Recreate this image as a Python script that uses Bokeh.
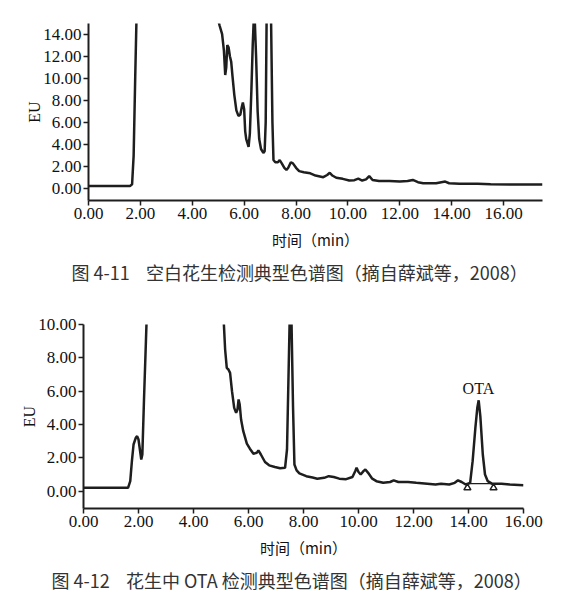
from bokeh.plotting import figure
from bokeh.models import Range1d, Label, FixedTicker, Title
from bokeh.embed import file_html
from bokeh.resources import INLINE

# ---------------- data: Fig 4-11 (blank peanut) ----------------
blank_time = [0.00, 1.60, 1.68, 1.74, 1.80, 1.86, 1.95, 4.85, 4.93, 5.05, 5.15, 5.22,
              5.27, 5.31, 5.35, 5.40, 5.45, 5.50, 5.55, 5.62, 5.70, 5.78, 5.85, 5.90,
              5.95, 6.00, 6.04, 6.08, 6.13, 6.17, 6.22, 6.28, 6.33, 6.39, 6.46, 6.52,
              6.58, 6.65, 6.74, 6.79, 6.83, 6.87, 7.03, 7.09, 7.13, 7.20, 7.30, 7.37,
              7.45, 7.55, 7.63, 7.70, 7.80, 7.88, 8.00, 8.12, 8.30, 8.55, 8.75, 9.05,
              9.20, 9.30, 9.40, 9.55, 9.80, 10.05, 10.25, 10.40, 10.55, 10.70, 10.82,
              10.95, 11.20, 11.60, 12.00, 12.30, 12.50, 12.70, 12.90, 13.40, 13.60,
              13.75, 13.90, 14.30, 15.00, 15.50, 16.50, 17.50]
blank_eu = [0.25, 0.25, 0.40, 3.00, 10.0, 16.5, 30.0, 30.0, 16.0, 14.8, 14.0, 12.5,
            10.3, 11.0, 13.0, 12.8, 12.0, 11.5, 10.2, 8.5, 7.1, 6.6, 6.7, 7.3,
            7.8, 7.2, 5.2, 4.5, 4.1, 3.8, 5.0, 9.0, 13.0, 16.5, 12.0, 7.0,
            4.5, 3.6, 3.25, 3.4, 6.0, 16.5, 16.5, 6.0, 2.6, 2.4, 2.4, 2.6,
            2.3, 1.9, 1.7, 1.9, 2.4, 2.3, 1.9, 1.6, 1.5, 1.4, 1.2, 1.05,
            1.25, 1.45, 1.2, 1.0, 0.9, 0.75, 0.78, 0.92, 0.75, 0.85, 1.15,
            0.8, 0.7, 0.7, 0.65, 0.7, 0.8, 0.6, 0.5, 0.5, 0.6,
            0.65, 0.5, 0.45, 0.45, 0.4, 0.38, 0.38]

# ---------------- data: Fig 4-12 (OTA in peanut) ----------------
ota_time = [0.00, 1.62, 1.70, 1.76, 1.82, 1.90, 1.95, 2.00, 2.05, 2.10, 2.14, 2.20,
            2.27, 2.33, 2.40, 5.00, 5.09, 5.15, 5.21, 5.27, 5.33, 5.40, 5.48, 5.55,
            5.60, 5.64, 5.68, 5.73, 5.81, 5.94, 6.05, 6.18, 6.30, 6.36, 6.45, 6.60,
            6.75, 6.96, 7.15, 7.33, 7.40, 7.45, 7.50, 7.53, 7.56, 7.62, 7.67, 7.75,
            7.85, 8.10, 8.33, 8.50, 8.75, 8.92, 9.10, 9.30, 9.55,
            9.78, 9.88, 9.93, 10.00, 10.08, 10.18, 10.25, 10.35, 10.50, 10.65, 10.90,
            11.15, 11.28, 11.45, 11.80, 12.10, 12.50, 12.80, 13.00, 13.30, 13.50,
            13.62, 13.75, 13.90, 14.06, 14.15, 14.25, 14.32, 14.37, 14.43, 14.52,
            14.60, 14.70, 14.85, 15.20, 15.50, 16.00]
ota_eu = [0.20, 0.20, 0.60, 1.80, 2.80, 3.20, 3.30, 3.10, 2.50, 1.90, 2.20, 5.50,
          9.00, 12.0, 30.0, 30.0, 10.5, 8.5, 7.4, 7.3, 7.1, 6.0, 5.0, 4.7,
          4.9, 5.5, 5.2, 4.3, 3.6, 2.85, 2.55, 2.25, 2.3, 2.45, 2.2, 1.75,
          1.55, 1.45, 1.38, 1.4, 2.5, 6.5, 10.5, 9.5, 10.5, 5.0, 1.6, 1.25,
          1.07, 0.9, 0.82, 0.75, 0.8, 0.9, 0.85, 0.75, 0.72,
          0.85, 1.2, 1.4, 1.15, 1.0, 1.2, 1.3, 1.1, 0.75, 0.6, 0.5,
          0.55, 0.65, 0.55, 0.55, 0.5, 0.45, 0.4, 0.45, 0.4, 0.5,
          0.65, 0.55, 0.4, 0.5, 1.8, 3.8, 5.0, 5.45, 4.5, 2.2,
          1.0, 0.6, 0.45, 0.45, 0.4, 0.35]

# OTA integration marks
ota_base_time = [13.96, 14.91]
ota_base_eu = [0.45, 0.45]
ota_mark_time = [13.96, 14.91]
ota_mark_eu = [0.20, 0.20]
ota_label = "OTA"
ota_label_pos = (14.36, 6.15)

x_ticks_top = [0, 2, 4, 6, 8, 10, 12, 14, 16]
y_ticks_top = [0, 2, 4, 6, 8, 10, 12, 14]
x_ticks_bot = [0, 2, 4, 6, 8, 10, 12, 14, 16]
y_ticks_bot = [0, 2, 4, 6, 8, 10]

x_title = "时间（min）"
y_title = "EU"
caption_top = "图\u00a04-11\u00a0\u00a0\u00a0\u00a0空白花生检测典型色谱图（摘自薛斌等，2008）"
caption_bot = "图\u00a04-12\u00a0\u00a0\u00a0\u00a0花生中\u00a0OTA\u00a0检测典型色谱图（摘自薛斌等，2008）"

INK = "#1e1e1e"
SERIF = "Liberation Serif"
CJK = "Noto Sans CJK SC"


def fmt(v):
    return f"{v:.2f}"


def style(p, xt, yt):
    p.outline_line_color = None
    p.xgrid.visible = False
    p.ygrid.visible = False
    for ax, ticks in ((p.xaxis[0], xt), (p.yaxis[0], yt)):
        ax.ticker = FixedTicker(ticks=ticks, minor_ticks=[])
        ax.major_label_overrides = {t: fmt(t) for t in ticks}
        ax.axis_line_width = 2
        ax.axis_line_color = INK
        ax.major_tick_line_width = 1.5
        ax.major_tick_line_color = INK
        ax.major_tick_in = 0
        ax.major_tick_out = 5
        ax.minor_tick_line_color = None
        ax.major_label_text_font = SERIF
        ax.major_label_text_font_size = "17px"
        ax.major_label_text_color = "#111111"
    p.xaxis.major_label_standoff = 2
    p.yaxis.major_label_standoff = 2
    p.xaxis.axis_label = x_title
    p.xaxis.axis_label_text_font = CJK
    p.xaxis.axis_label_text_font_style = "normal"
    p.xaxis.axis_label_text_font_size = "15px"
    p.xaxis.axis_label_text_color = "#111111"
    p.xaxis.axis_label_standoff = 7
    p.yaxis.axis_label = y_title
    p.yaxis.axis_label_text_font = SERIF
    p.yaxis.axis_label_text_font_style = "normal"
    p.yaxis.axis_label_text_font_size = "16px"
    p.yaxis.axis_label_text_color = "#111111"
    p.yaxis.axis_label_standoff = -3


def caption(p, text, offset):
    p.add_layout(Title(text=text, align="left", offset=offset, standoff=8,
                       text_font=CJK, text_font_size="18px",
                       text_font_style="normal", text_color="#333333"), "below")


# ---------------- top figure ----------------
p1 = figure(width=570, height=300, output_backend="svg", toolbar_location=None,
            x_range=Range1d(0, 17.5), y_range=Range1d(-1.06, 14.96),
            min_border_left=88, min_border_right=28, min_border_top=23,
            min_border_bottom=100)
style(p1, x_ticks_top, y_ticks_top)
p1.line(blank_time, blank_eu, line_color=INK, line_width=2.5)
caption(p1, caption_top, -17)

# ---------------- bottom figure ----------------
p2 = figure(width=570, height=296, output_backend="svg", toolbar_location=None,
            x_range=Range1d(0, 16), y_range=Range1d(-1.04, 10.0),
            min_border_left=83, min_border_right=47, min_border_top=24,
            min_border_bottom=88)
style(p2, x_ticks_bot, y_ticks_bot)
p2.line(ota_time, ota_eu, line_color=INK, line_width=2.5)
p2.line(ota_base_time, ota_base_eu, line_color=INK, line_width=1.2)
p2.scatter(ota_mark_time, ota_mark_eu, marker="triangle", size=7,
           fill_color="white", line_color=INK, line_width=1.5)
p2.add_layout(Label(x=ota_label_pos[0], y=ota_label_pos[1], text=ota_label,
                    text_font=SERIF, text_font_size="16px", text_color="#111111",
                    text_align="center", text_baseline="middle"))
caption(p2, caption_bot, -32)

open("out.html", "w").write(file_html([p1, p2], INLINE))
